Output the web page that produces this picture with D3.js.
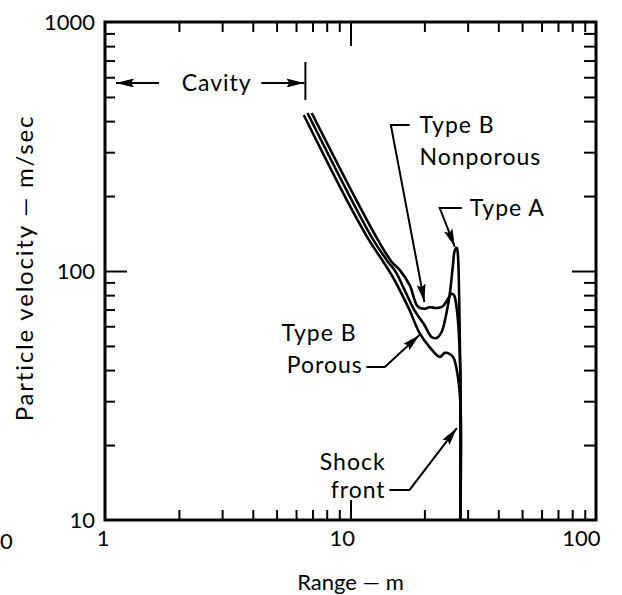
<!DOCTYPE html>
<html>
<head>
<meta charset="utf-8">
<style>
  body { margin: 0; background: #fff; }
  text { font-family: Lato, "DejaVu Sans", sans-serif; fill: #000; }
</style>
</head>
<body>
<script src="https://cdn.jsdelivr.net/npm/d3@7"></script>
<script>
var svgWidth = 622, svgHeight = 595;

// range (m) / particle velocity (m/sec)
var typeARange = [6.68, 10.1, 12.4, 14.2, 15.3, 16.6, 18.2, 20.0, 21.4, 22.4, 23.5, 24.6, 25.4, 26.1, 26.6, 27.1, 27.4, 27.7, 28.0, 28.0];
var typeAVel   = [431, 193, 133, 109, 99, 84, 69.7, 60.7, 54.3, 53.8, 56.9, 67.8, 81.6, 104, 121, 124, 115, 80, 40, 10];

var nonporousRange = [6.95, 10.55, 12.95, 14.7, 15.85, 17.4, 18.8, 20.0, 21.0, 22.4, 23.7, 24.9, 25.8, 26.4, 27.2, 28.0, 28.0];
var nonporousVel   = [431, 193, 133, 109, 101, 87.9, 72, 70.5, 71.5, 71, 72, 77, 81, 80, 68, 40, 10];

var porousRange = [6.45, 9.65, 11.9, 13.6, 14.7, 15.85, 17.4, 19.1, 21.0, 23.1, 24.2, 25.4, 26.3, 27.1, 28.0, 28.0];
var porousVel   = [423, 193, 133, 109, 96.4, 84, 69.7, 56.4, 49.5, 45.2, 46.9, 46.4, 44.8, 40, 30, 10];

var xMinorTicks = [2, 3, 4, 5, 6, 7, 8, 9, 20, 30, 40, 50, 60, 70, 80, 90];
var xMajorTicks = [10];
var yMinorTicks = [20, 30, 40, 50, 60, 70, 80, 90, 200, 300, 400, 500, 600, 700, 800, 900];
var yMajorTicks = [100];
var xTickLabels = [1, 10, 100];
var yTickLabels = [10, 100, 1000];

var margins = { left: 105, top: 22, right: 26, bottom: 75 };
var plotW = svgWidth - margins.left - margins.right;
var plotH = svgHeight - margins.top - margins.bottom;

var svg = d3.select('body').append('svg')
    .attr('width', svgWidth).attr('height', svgHeight);

var xScale = d3.scaleLog().domain([1, 100]).range([0, plotW]);
var yScale = d3.scaleLog().domain([10, 1000]).range([plotH, 0]);

var g = svg.append('g')
    .attr('transform', 'translate(' + margins.left + ',' + margins.top + ')');

// tick marks on all four sides, pointing inward
function ticks(axis, values, size, transform) {
    var a = g.append('g').attr('transform', transform)
        .call(axis.tickValues(values).tickSize(size).tickFormat(''));
    a.select('.domain').remove();
    a.selectAll('line').attr('stroke', '#000').attr('stroke-width', 2);
}
ticks(d3.axisBottom(xScale), xMinorTicks, -10, 'translate(0,' + plotH + ')');
ticks(d3.axisBottom(xScale), xMajorTicks, -20, 'translate(0,' + plotH + ')');
ticks(d3.axisTop(xScale), xMinorTicks, -10, 'translate(0,0)');
ticks(d3.axisTop(xScale), xMajorTicks, -24, 'translate(0,0)');
ticks(d3.axisLeft(yScale), yMinorTicks, -10, 'translate(0,0)');
ticks(d3.axisLeft(yScale), yMajorTicks, -22, 'translate(0,0)');
ticks(d3.axisRight(yScale), yMinorTicks, -12, 'translate(' + plotW + ',0)');
ticks(d3.axisRight(yScale), yMajorTicks, -24, 'translate(' + plotW + ',0)');

g.append('rect')
    .attr('width', plotW).attr('height', plotH)
    .attr('fill', 'none').attr('stroke', '#000').attr('stroke-width', 3);

// tick labels
var xl = g.append('g').attr('transform', 'translate(0,' + plotH + ')')
    .call(d3.axisBottom(xScale).tickValues(xTickLabels).tickSize(0).tickPadding(10)
        .tickFormat(d3.format('d')));
xl.select('.domain').remove();
xl.selectAll('text').attr('font-size', 22).attr('font-family', 'Lato, sans-serif')
    .attr('fill', '#000').attr('text-anchor', 'end').attr('dx', 4);

var yl = g.append('g')
    .call(d3.axisLeft(yScale).tickValues(yTickLabels).tickSize(0).tickPadding(10)
        .tickFormat(d3.format('d')));
yl.select('.domain').remove();
yl.selectAll('text').attr('font-size', 22).attr('font-family', 'Lato, sans-serif').attr('fill', '#000');

// stray label left over from the neighbouring figure
svg.append('text').attr('x', 0).attr('y', plotH + margins.top + 29)
    .attr('text-anchor', 'start').attr('font-size', 22).text('0');

// axis titles
svg.append('text')
    .attr('x', margins.left + plotW / 2).attr('y', 590)
    .attr('text-anchor', 'middle').attr('font-size', 22)
    .text('Range — m');
svg.append('text')
    .attr('transform', 'translate(33,268) rotate(-90)')
    .attr('text-anchor', 'middle').attr('font-size', 24)
    .attr('letter-spacing', 1.8)
    .text('Particle velocity — m/sec');

// curves
var line = d3.line()
    .x(function (d) { return xScale(d[0]); })
    .y(function (d) { return yScale(d[1]); })
    .curve(d3.curveCatmullRom.alpha(0.5));

[[typeARange, typeAVel], [nonporousRange, nonporousVel], [porousRange, porousVel]]
    .forEach(function (s) {
        g.append('path')
            .datum(d3.zip(s[0], s[1]))
            .attr('d', line)
            .attr('fill', 'none').attr('stroke', '#000')
            .attr('stroke-width', 2.6).attr('stroke-linejoin', 'round');
    });

// annotations
svg.append('defs').append('marker')
    .attr('id', 'head').attr('markerUnits', 'userSpaceOnUse')
    .attr('viewBox', '0 0 18 9').attr('refX', 18).attr('refY', 4.5)
    .attr('markerWidth', 18).attr('markerHeight', 9).attr('orient', 'auto')
    .append('path').attr('d', 'M0,0L18,4.5L0,9L3,4.5Z').attr('fill', '#000');

var plainLine = d3.line()
    .x(function (d) { return xScale(d[0]); })
    .y(function (d) { return yScale(d[1]); });

function leader(pts, arrow) {
    var p = g.append('path').datum(pts).attr('d', plainLine)
        .attr('fill', 'none').attr('stroke', '#000').attr('stroke-width', 2);
    if (arrow) p.attr('marker-end', 'url(#head)');
}
function label(x, y, txt, anchor) {
    g.append('text').attr('x', xScale(x)).attr('y', yScale(y))
        .attr('dy', '0.35em').attr('text-anchor', anchor || 'start')
        .attr('font-size', 23).attr('letter-spacing', 1).text(txt);
}

leader([[1.66, 569], [1.109, 569]], true);
leader([[4.33, 569], [6.49, 569]], true);
leader([[6.55, 691], [6.55, 486]], false);
label(2.85, 569, 'Cavity', 'middle');

leader([[17.4, 386], [14.6, 386], [20.0, 75]], true);
label(19.1, 386, 'Type B');
label(19.1, 287, 'Nonporous');

leader([[28.4, 179], [23.1, 179], [26.6, 125]], true);
label(30.6, 179, 'Type A');

leader([[11.6, 41.2], [13.8, 41.2], [19.1, 55.3]], true);
label(5.23, 56.4, 'Type B');
label(5.5, 41.9, 'Porous');

leader([[14.4, 13.2], [17.4, 13.2], [27.1, 23.4]], true);
label(13.9, 17.1, 'Shock', 'end');
label(13.9, 13.2, 'front', 'end');
</script>
</body>
</html>
